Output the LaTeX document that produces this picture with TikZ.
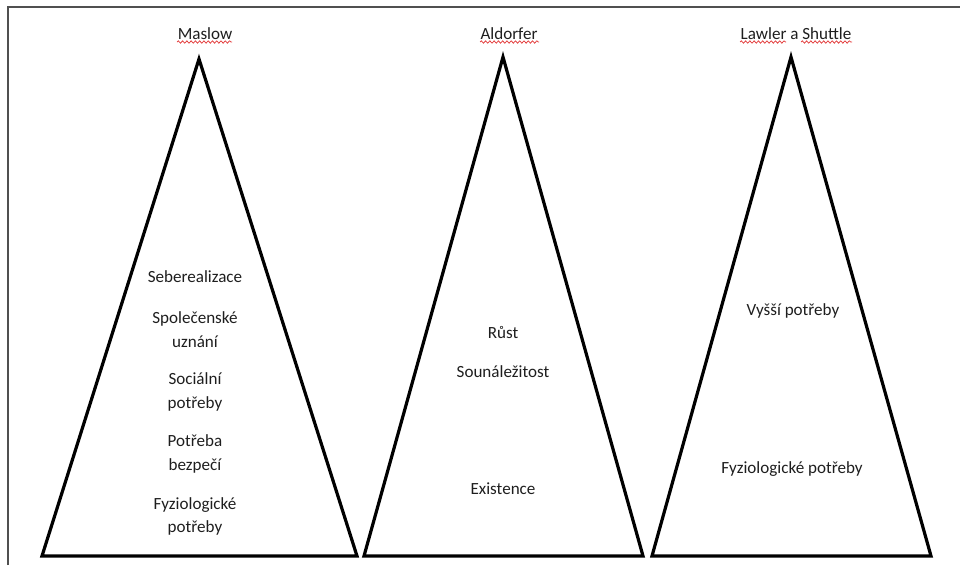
\documentclass[tikz,border=0pt]{standalone}
\usepackage{fontspec}
\setmainfont{Carlito}
\usetikzlibrary{decorations.pathmorphing}
\definecolor{framegray}{HTML}{505050}
\definecolor{inktext}{HTML}{1E1E1E}
\definecolor{spellred}{HTML}{E23A3A}
\tikzset{
  pyramid/.style={draw=black, line width=2.4pt, line join=miter},
  label/.style={text=inktext, font=\fontsize{12.8}{17.6}\selectfont, align=center, inner sep=0pt},
  heading/.style={label},
  squiggle/.style={draw=spellred, line width=0.55pt,
    decorate, decoration={snake, segment length=3.2, amplitude=0.9}},
}
\begin{document}
\begin{tikzpicture}[x=0.75pt, y=-0.75pt]
  \useasboundingbox (0,0) rectangle (960,565);
  % page frame
  \draw[framegray, line width=1.6pt] (8,565) -- (8,7) -- (960,7);

  % pyramid corners
  \coordinate (mA) at (199,59);  \coordinate (mL) at (42,556);  \coordinate (mR) at (357,556);
  \coordinate (aA) at (503,57);  \coordinate (aL) at (364,556); \coordinate (aR) at (643,556);
  \coordinate (lA) at (791,57);  \coordinate (lL) at (652,556); \coordinate (lR) at (931,556);

  \draw[pyramid] (mA) -- (mR) -- (mL) -- cycle;
  \draw[pyramid] (aA) -- (aR) -- (aL) -- cycle;
  \draw[pyramid] (lA) -- (lR) -- (lL) -- cycle;

  % headings
  \node[heading] (tMaslow) at (205,34) {Maslow};
  \node[heading] (tAldorfer) at (509,34) {Aldorfer};
  \node[heading] (tLawler) at (796,34) {Lawler a Shuttle};
  \draw[squiggle] (177,42) -- (232,42);
  \draw[squiggle] (480,42) -- (539,42);
  \draw[squiggle] (740,42) -- (786,42);
  \draw[squiggle] (801,42) -- (852,42);

  % Maslow levels
  \node[label] (m5) at (195,277) {Seberealizace};
  \node[label] (m4) at (195,329.5) {Společenské\\uznání};
  \node[label] (m3) at (195,392) {Sociální\\potřeby};
  \node[label] (m2) at (195,454) {Potřeba\\bezpečí};
  \node[label] (m1) at (195,516.5) {Fyziologické\\potřeby};

  % Alderfer levels
  \node[label] (a3) at (503,333) {Růst};
  \node[label] (a2) at (503,372) {Sounáležitost};
  \node[label] (a1) at (503,489) {Existence};

  % Lawler and Suttle levels
  \node[label] (l2) at (793,311) {Vyšší potřeby};
  \node[label] (l1) at (792,469) {Fyziologické potřeby};
\end{tikzpicture}
\end{document}
